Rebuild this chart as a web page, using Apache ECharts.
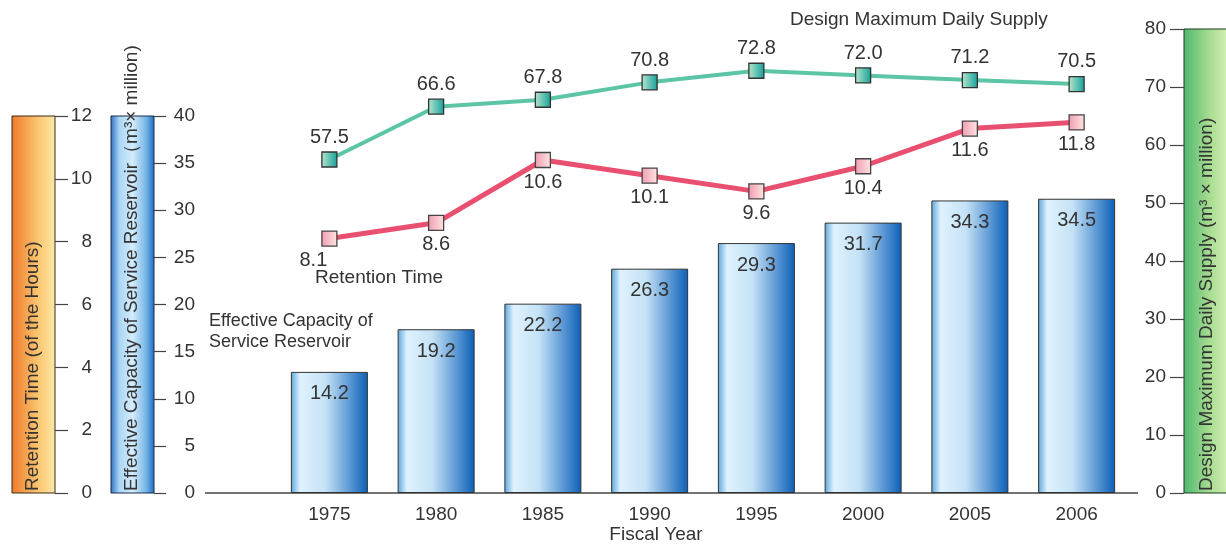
<!DOCTYPE html>
<html>
<head>
<meta charset="utf-8">
<title>Service Reservoir</title>
<script src="https://cdn.jsdelivr.net/npm/echarts@6/dist/echarts.min.js"></script>
<style>
  html, body { margin: 0; padding: 0; background: #fff; }
  #chart { width: 1226px; height: 545px; }
</style>
</head>
<body>
<div id="chart"></div>
<script>
// 数据
const years = ["1975", "1980", "1985", "1990", "1995", "2000", "2005", "2006"];
const capacity = [14.2, 19.2, 22.2, 26.3, 29.3, 31.7, 34.3, 34.5];
const retention = [8.1, 8.6, 10.6, 10.1, 9.6, 10.4, 11.6, 11.8];
const supply = [57.5, 66.6, 67.8, 70.8, 72.8, 72.0, 71.2, 70.5];

const FONT = "Liberation Sans, Arial, sans-serif";
const TXT = "#333";
const LG = echarts.graphic.LinearGradient;
const oneDecimal = (p) => Number(p.value).toFixed(1);

// 坐标轴通用样式（刻度朝内，标签右对齐）
function sideAxis(opt, margin, tickLen) {
  return Object.assign({
    type: "value",
    axisLine: { show: false },
    splitLine: { show: false },
    axisTick: { show: true, inside: true, length: tickLen, lineStyle: { color: "#444", width: 1.2 } },
    axisLabel: { inside: true, align: "right", margin: margin, color: TXT, fontSize: 19, fontFamily: FONT },
  }, opt);
}

// 旋转的纵轴名称
function vText(x, text) {
  return {
    type: "text", x: x, y: 491, rotation: Math.PI / 2,
    style: { text: text, fill: TXT, font: "19px " + FONT, align: "left", verticalAlign: "middle", textAlign: "left", textVerticalAlign: "middle" },
  };
}

function note(x, y, text, size, align) {
  return {
    type: "text", x: x, y: y,
    style: { text: text, fill: TXT, font: size + "px " + FONT, lineHeight: 21, align: align || "left", verticalAlign: "middle", textAlign: align || "left", textVerticalAlign: "middle" },
  };
}

const options = {
  animation: false,
  backgroundColor: "#fff",
  grid: [
    { left: 276, right: 96, top: 116, bottom: 52 },
    { left: 276, right: 96, top: 29, bottom: 52 },
  ],
  xAxis: [
    {
      gridIndex: 0,
      type: "category",
      data: years,
      axisLine: { show: false },
      axisTick: { show: false },
      axisLabel: { color: TXT, fontSize: 19, fontFamily: FONT, margin: 12 },
    },
    { gridIndex: 1, type: "category", data: years, show: false },
  ],
  yAxis: [
    sideAxis({ gridIndex: 0, min: 0, max: 40, interval: 5, position: "left", offset: 122 }, 41, 12),
    sideAxis({ gridIndex: 0, min: 0, max: 12, interval: 2, position: "left", offset: 221 }, 37, 13),
    // 柱子按原图比例绘制
    { gridIndex: 0, type: "value", min: 0, max: 44.2, show: false },
    sideAxis({ gridIndex: 1, min: 0, max: 80, interval: 10, position: "right", offset: 54 }, 18, 14),
  ],
  series: [
    {
      name: "Effective Capacity of Service Reservoir",
      type: "bar",
      xAxisIndex: 0,
      yAxisIndex: 2,
      barWidth: 77,
      data: capacity,
      itemStyle: {
        borderColor: "#333",
        borderWidth: 1,
        color: new LG(0, 0, 1, 0, [
          { offset: 0, color: "#5aa6dc" },
          { offset: 0.12, color: "#dff2fd" },
          { offset: 0.45, color: "#c4e2f6" },
          { offset: 0.8, color: "#4f8fd0" },
          { offset: 1, color: "#0b5fb5" },
        ]),
      },
      label: { show: true, position: "insideTop", distance: 12, color: TXT, fontSize: 20, fontFamily: FONT, formatter: oneDecimal },
    },
    {
      name: "Retention Time",
      type: "line",
      xAxisIndex: 0,
      yAxisIndex: 1,
      z: 5,
      symbol: "rect",
      symbolSize: 15,
      data: retention.map((v, i) => (i === 0 ? { value: v, label: { offset: [-16, 0] } } : v)),
      lineStyle: { color: "#e9506f", width: 5 },
      itemStyle: {
        borderColor: "#444",
        borderWidth: 1.3,
        color: new LG(0, 0, 1, 0, [
          { offset: 0, color: "#f39bb0" },
          { offset: 1, color: "#fde6e2" },
        ]),
      },
      label: { show: true, position: "bottom", distance: 4, color: TXT, fontSize: 20, fontFamily: FONT, formatter: oneDecimal },
    },
    {
      name: "Design Maximum Daily Supply",
      type: "line",
      xAxisIndex: 1,
      yAxisIndex: 3,
      z: 5,
      symbol: "rect",
      symbolSize: 15,
      data: supply,
      lineStyle: { color: "#5cc5a7", width: 4 },
      itemStyle: {
        borderColor: "#333",
        borderWidth: 1.3,
        color: new LG(0, 0, 1, 0, [
          { offset: 0, color: "#b9e6cd" },
          { offset: 1, color: "#14a09a" },
        ]),
      },
      label: { show: true, position: "top", distance: 4, color: TXT, fontSize: 20, fontFamily: FONT, formatter: oneDecimal },
    },
  ],
  graphic: [
    // 左侧两根色条 + 右侧色条
    {
      type: "rect", shape: { x: 12, y: 116, width: 43, height: 377 }, z: -1,
      style: { stroke: "#3a2a1a", lineWidth: 1, fill: new LG(0, 0, 1, 0, [
        { offset: 0, color: "#ef7a2c" }, { offset: 0.6, color: "#fbc56e" }, { offset: 1, color: "#fde9a8" }]) },
    },
    {
      type: "rect", shape: { x: 111, y: 116, width: 43, height: 377 }, z: -1,
      style: { stroke: "#1a2a4a", lineWidth: 1, fill: new LG(0, 0, 1, 0, [
        { offset: 0, color: "#2d6fc0" }, { offset: 0.2, color: "#a9d6f5" }, { offset: 0.5, color: "#d4ecfb" },
        { offset: 0.8, color: "#7ab8e8" }, { offset: 1, color: "#1a6cc2" }]) },
    },
    {
      type: "rect", shape: { x: 1184, y: 29, width: 50, height: 464 }, z: -1,
      style: { stroke: "#1a3a1a", lineWidth: 1, fill: new LG(0, 0, 1, 0, [
        { offset: 0, color: "#4fb870" }, { offset: 0.5, color: "#a6dc90" }, { offset: 0.85, color: "#cfeeb0" }]) },
    },
    // 横轴线
    { type: "line", shape: { x1: 205, y1: 493, x2: 1138, y2: 493 }, style: { stroke: "#444", lineWidth: 1.5 } },
    // 纵轴名称
    vText(33, "Retention Time (of the Hours)"),
    vText(132, "Effective Capacity of Service Reservoir（m³× million)"),
    vText(1207, "Design Maximum Daily Supply (m³ × million)"),
    // 系列注释
    note(790, 20, "Design Maximum Daily Supply", 19),
    note(315, 278, "Retention Time", 19),
    note(209, 332, "Effective Capacity of\nService Reservoir", 18),
    note(656, 535, "Fiscal Year", 19, "center"),
  ],
};

const chart = echarts.init(document.getElementById("chart"));
chart.setOption(options);

window.addEventListener("resize", () => {
  chart.resize();
});
</script>
</body>
</html>
